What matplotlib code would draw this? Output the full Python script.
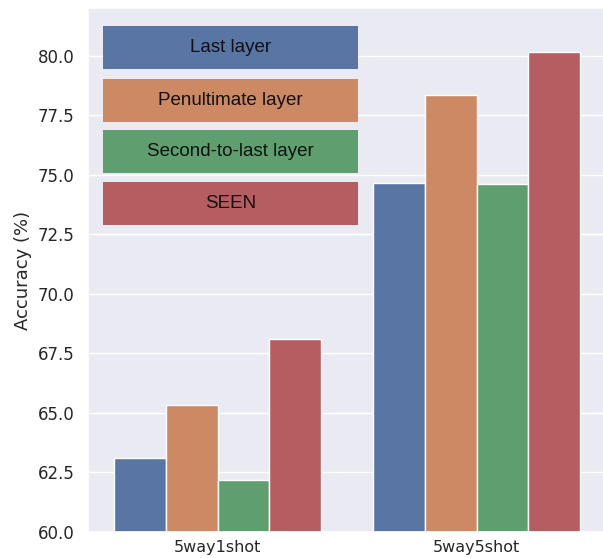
import numpy as np
import matplotlib
matplotlib.use("Agg")
import matplotlib.pyplot as plt
from matplotlib.patches import Rectangle
import seaborn as sns

# veriler
tasks = ["5way1shot", "5way5shot"]
methods = ["Last layer", "Penultimate layer", "Second-to-last layer", "SEEN"]
last_layer = [63.10, 74.66]
penultimate = [65.32, 78.36]
second_to_last = [62.18, 74.62]
seen = [68.11, 80.15]
series = [last_layer, penultimate, second_to_last, seen]

sns.set_theme(style="darkgrid")
plt.rcParams["font.family"] = ["DejaVu Sans"]
renk = [sns.desaturate(c, 0.75) for c in sns.color_palette("deep", 4)]

fig = plt.figure(figsize=(6.03, 5.58), dpi=100)
ax = fig.add_axes([88 / 603, 26 / 558, 518 / 603, 524 / 558])

x = np.arange(len(tasks))
w = 0.2
for i, vals in enumerate(series):
    ax.bar(x - 0.3 + i * w, vals, width=w, color=renk[i], edgecolor="white", linewidth=1)

ax.set_xlim(-0.5, 1.5)
ax.set_ylim(60, 82)
ax.set_yticks(np.arange(60, 80.1, 2.5))
ax.set_yticklabels(["%.1f" % v for v in np.arange(60, 80.1, 2.5)])
ax.set_xticks(x)
ax.set_xticklabels(tasks)
ax.grid(axis="x", visible=False)
ax.tick_params(labelsize=12)
ax.tick_params(axis="x", pad=0, labelsize=11.5)
ax.set_ylabel("Accuracy (%)", fontsize=13)

# legend kutulari
bottoms = [0.884, 0.7824, 0.6857, 0.5859]
for i, name in enumerate(methods):
    ax.add_patch(Rectangle((0.029, bottoms[i]), 0.492, 0.0817, transform=ax.transAxes,
                           facecolor=renk[i], edgecolor="none", zorder=5))
    ax.text(0.275, bottoms[i] + 0.0817 / 2, name, transform=ax.transAxes, ha="center",
            va="center", fontsize=13.5, family="Liberation Sans", color="#111111", zorder=6)

plt.savefig("out.png", dpi=100)
